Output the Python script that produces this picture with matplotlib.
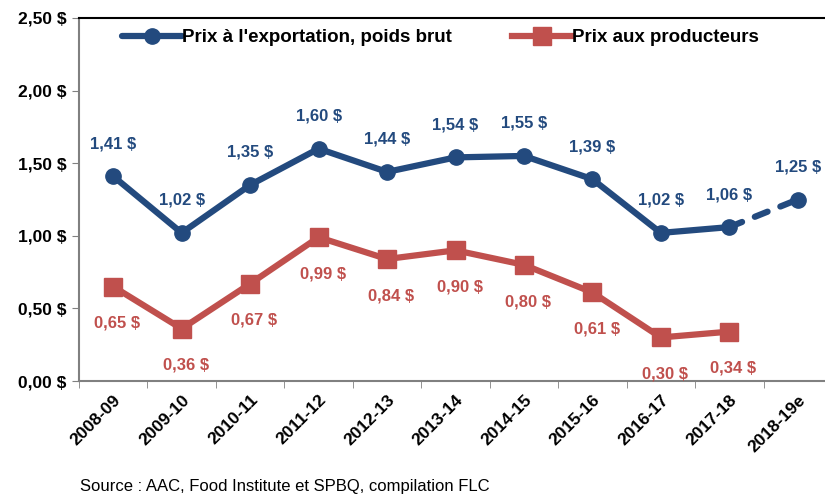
import matplotlib
matplotlib.use("Agg")
import matplotlib.pyplot as plt
import numpy as np
from matplotlib import font_manager

names = {f.name for f in font_manager.fontManager.ttflist}
narrow = 'Liberation Sans Narrow' if 'Liberation Sans Narrow' in names else 'Liberation Sans'
plt.rcParams['font.family'] = [narrow, 'DejaVu Sans']

categories = ["2008-09", "2009-10", "2010-11", "2011-12", "2012-13", "2013-14",
              "2014-15", "2015-16", "2016-17", "2017-18", "2018-19e"]
export_prices = [1.41, 1.02, 1.35, 1.60, 1.44, 1.54, 1.55, 1.39, 1.02, 1.06, 1.25]
producer_prices = [0.65, 0.36, 0.67, 0.99, 0.84, 0.90, 0.80, 0.61, 0.30, 0.34]
yticks = [0.0, 0.5, 1.0, 1.5, 2.0, 2.5]
series_names = ["Prix à l'exportation, poids brut", "Prix aux producteurs"]
source = "Source : AAC, Food Institute et SPBQ, compilation FLC"

blue = "#234A7E"
red = "#C0504D"

def fmt(v):
    return f"{v:.2f}".replace(".", ",") + " $"

fig = plt.figure(figsize=(8.25, 4.96), dpi=100)
ax = fig.add_axes([79/825, 1-381/496, 753/825, 363/496])

x = np.arange(len(categories))
# export: solid part up to 2017-18, dashed to 2018-19e
ax.plot(x[:10], export_prices[:10], color=blue, lw=4.5, marker='o', ms=11,
        solid_capstyle='round', label=series_names[0], zorder=3)
ax.plot(x[9:], export_prices[9:], color=blue, lw=4.5, ls=(0, (2.2, 2.2)),
        dash_capstyle='round', zorder=3)
ax.plot(x[10], export_prices[10], color=blue, marker='o', ms=11, zorder=3)
ax.plot(x[:len(producer_prices)], producer_prices, color=red, lw=4.5, marker='s', ms=13,
        label=series_names[1], zorder=3)

for xi, v in zip(x, export_prices):
    ax.annotate(fmt(v), (xi, v), xytext=(0, 18), textcoords='offset points',
                ha='center', va='bottom', color=blue, fontsize=12, fontweight='bold')
for xi, v in zip(x, producer_prices):
    ax.annotate(fmt(v), (xi, v), xytext=(3, -21), textcoords='offset points',
                ha='center', va='top', color=red, fontsize=12, fontweight='bold')

ax.set_xlim(-0.5, len(categories) - 0.5)
ax.set_ylim(0, 2.5)
ax.set_yticks(yticks)
ax.set_yticklabels([fmt(v) for v in yticks], fontsize=12.5, fontweight='bold')
ax.set_xticks(x)
ax.set_xticklabels(categories, rotation=45, ha='right', rotation_mode='anchor',
                   fontsize=12.5, fontweight='bold')
ax.set_xticks(np.arange(len(categories) + 1) - 0.5, minor=True)
ax.tick_params(axis='x', which='major', length=0, pad=8)
ax.tick_params(axis='x', which='minor', length=5, color='#808080', direction='out')
ax.tick_params(axis='y', length=5, color='#808080', direction='out', pad=4)

for s in ['left', 'bottom']:
    ax.spines[s].set_color('#808080')
    ax.spines[s].set_linewidth(1.5)
ax.spines['top'].set_color('black')
ax.spines['top'].set_linewidth(1.5)
ax.spines['right'].set_visible(False)

leg = ax.legend(loc='upper left', bbox_to_anchor=(0.042, 1.0), ncol=2, frameon=False,
                fontsize=13.5, handlelength=3.2, handletextpad=0.0, columnspacing=3.2,
                borderaxespad=0.2)
for t in leg.get_texts():
    t.set_fontweight('bold')

fig.text(80/825, 1-487/496, source, fontsize=12, ha='left', va='center')

fig.savefig("out.png", dpi=100)
